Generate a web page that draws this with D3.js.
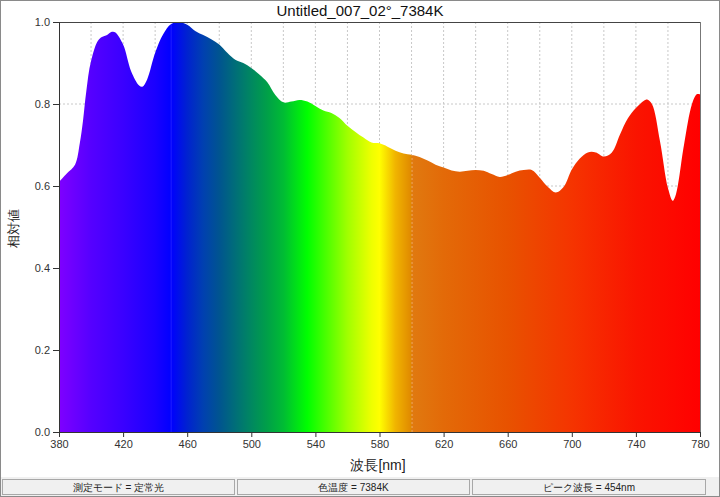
<!DOCTYPE html>
<html><head><meta charset="utf-8">
<script src="https://cdn.jsdelivr.net/npm/d3@7"></script>
<style>
body{margin:0;background:#fff;}
svg{display:block;font-family:"Liberation Sans",Arial,sans-serif;}
</style></head>
<body><svg id="c" width="720" height="497"></svg>
<script>
const title = "Untitled_007_02°_7384K";
const xLabel = "波長[nm]";
const yLabel = "相対値";
const statusTexts = ["測定モード = 定常光", "色温度 = 7384K", "ピーク波長 = 454nm"];
const xTicks = [380,420,460,500,540,580,620,660,700,740,780];
const yTicks = [0.0,0.2,0.4,0.6,0.8,1.0];
const wavelengths = [380,385,390,393,395,397,400,405,410,413,415,420,425,430,432,435,440,445,450,455,460,465,470,475,480,485,490,495,500,505,510,515,520,525,530,535,540,545,550,555,560,565,570,575,580,585,590,595,600,605,610,615,620,625,630,635,640,645,650,655,660,665,670,675,680,685,690,695,700,705,710,715,720,725,730,735,740,745,747,750,755,760,763,765,770,775,778,780];
const values = [0.61,0.631,0.652,0.705,0.76,0.83,0.905,0.958,0.968,0.976,0.975,0.945,0.88,0.845,0.842,0.86,0.925,0.97,0.995,1.0,0.993,0.978,0.968,0.958,0.945,0.925,0.908,0.9,0.888,0.872,0.853,0.822,0.804,0.806,0.81,0.806,0.795,0.784,0.778,0.766,0.747,0.732,0.718,0.706,0.704,0.696,0.686,0.679,0.676,0.671,0.662,0.652,0.645,0.638,0.635,0.637,0.639,0.637,0.629,0.622,0.627,0.635,0.639,0.639,0.62,0.598,0.584,0.598,0.64,0.667,0.682,0.682,0.672,0.682,0.725,0.765,0.79,0.808,0.811,0.8,0.71,0.595,0.564,0.58,0.7,0.8,0.824,0.824];
const gradWl = [380,400,420,440,450,460,470,480,490,500,510,520,535,545,560,575,580,590,599.9,600,620,660,700,740,780];
const gradCol = ["#7f00ff","#5500ff","#3a00ff","#1a00ff","#0000ff","#0022d0","#0040b0","#005490","#006e78","#008860","#00a048","#00bc34","#00ff00","#40ff00","#a0ff00","#eeff00","#ffff00","#f0b400","#e08800","#e07a10","#e36a08","#e85200","#f53400","#fa1400","#ff0000"];

const svg = d3.select("#c");
const L=59,R=700,T=22,B=432;
const x = d3.scaleLinear().domain([380,780]).range([L,R]);
const y = d3.scaleLinear().domain([0,1]).range([B,T]);

svg.append("rect").attr("x",0.5).attr("y",0.5).attr("width",719).attr("height",496).attr("fill","#fff").attr("stroke","#8a8a8a");

svg.append("text").attr("x",360).attr("y",16).attr("text-anchor","middle").attr("font-size",15).attr("fill","#111").text(title);

const g = svg.append("g");
d3.range(400,780,20).forEach(w=>{
  g.append("line").attr("x1",x(w)).attr("x2",x(w)).attr("y1",T).attr("y2",B)
   .attr("stroke","#c8c8c8").attr("stroke-dasharray","2,2");
});
[0.2,0.4,0.6,0.8].forEach(v=>{
  g.append("line").attr("x1",L).attr("x2",R).attr("y1",y(v)).attr("y2",y(v))
   .attr("stroke","#c8c8c8").attr("stroke-dasharray","2,2");
});

const defs = svg.append("defs");
const grad = defs.append("linearGradient").attr("id","spec").attr("gradientUnits","userSpaceOnUse")
  .attr("x1",x(380)).attr("x2",x(780)).attr("y1",0).attr("y2",0);
gradWl.forEach((w,i)=>grad.append("stop").attr("offset",(w-380)/400).attr("stop-color",gradCol[i]));

const data = wavelengths.map((w,i)=>({w,v:values[i]}));
const area = d3.area().x(d=>x(d.w)).y0(B).y1(d=>y(d.v)).curve(d3.curveCatmullRom.alpha(0.5));
defs.append("clipPath").attr("id","ac").append("path").attr("d",area(data));
defs.append("clipPath").attr("id","pc").append("rect").attr("x",L).attr("y",T).attr("width",R-L).attr("height",B-T);
svg.append("path").attr("d",area(data)).attr("fill","url(#spec)").attr("clip-path","url(#pc)");
svg.append("line").attr("x1",x(450)).attr("x2",x(450)).attr("y1",T).attr("y2",B)
  .attr("stroke","#fff").attr("stroke-opacity",0.12).attr("clip-path","url(#ac)");
svg.append("line").attr("x1",x(600)+0.5).attr("x2",x(600)+0.5).attr("y1",T).attr("y2",B)
  .attr("stroke","#fff").attr("stroke-opacity",0.35).attr("stroke-dasharray","2,2").attr("clip-path","url(#ac)");

svg.append("line").attr("x1",L).attr("x2",R).attr("y1",T+0.5).attr("y2",T+0.5).attr("stroke","#444");
svg.append("line").attr("x1",R+0.5).attr("x2",R+0.5).attr("y1",T).attr("y2",B).attr("stroke","#777");

const xa = svg.append("g").attr("transform",`translate(0,${B})`)
  .call(d3.axisBottom(x).tickValues(xTicks).tickSize(5).tickPadding(3).tickFormat(d3.format("d")));
const ya = svg.append("g").attr("transform",`translate(${L},0)`)
  .call(d3.axisLeft(y).tickValues(yTicks).tickSize(6).tickPadding(3).tickFormat(d3.format(".1f")));
[xa,ya].forEach(a=>{
  a.selectAll("text").attr("font-size",11).attr("fill","#333").attr("font-family","'Liberation Sans',Arial,sans-serif");
  a.selectAll("line").attr("stroke","#333");
  a.select(".domain").attr("stroke","#333");
});

svg.append("text").attr("x",378).attr("y",470).attr("text-anchor","middle").attr("font-size",14).attr("fill","#222").text(xLabel);
svg.append("text").attr("transform","translate(18,228) rotate(-90)").attr("text-anchor","middle").attr("font-size",13).attr("fill","#222").text(yLabel);

svg.append("rect").attr("x",1).attr("y",477).attr("width",718).attr("height",19).attr("fill","#f0f0f0");
const panels = [[2,235],[237,470],[472,706]];
panels.forEach((p,i)=>{
  svg.append("rect").attr("x",p[0]+0.5).attr("y",479.5).attr("width",p[1]-p[0]-1).attr("height",15)
    .attr("fill","#f0f0f0").attr("stroke","#a8a8a8");
  svg.append("text").attr("x",(p[0]+p[1])/2).attr("y",491).attr("text-anchor","middle")
    .attr("font-size",10).attr("fill","#222").text(statusTexts[i]);
});
svg.append("rect").attr("x",0.5).attr("y",0.5).attr("width",719).attr("height",496).attr("fill","none").attr("stroke","#8a8a8a");
</script></body></html>
